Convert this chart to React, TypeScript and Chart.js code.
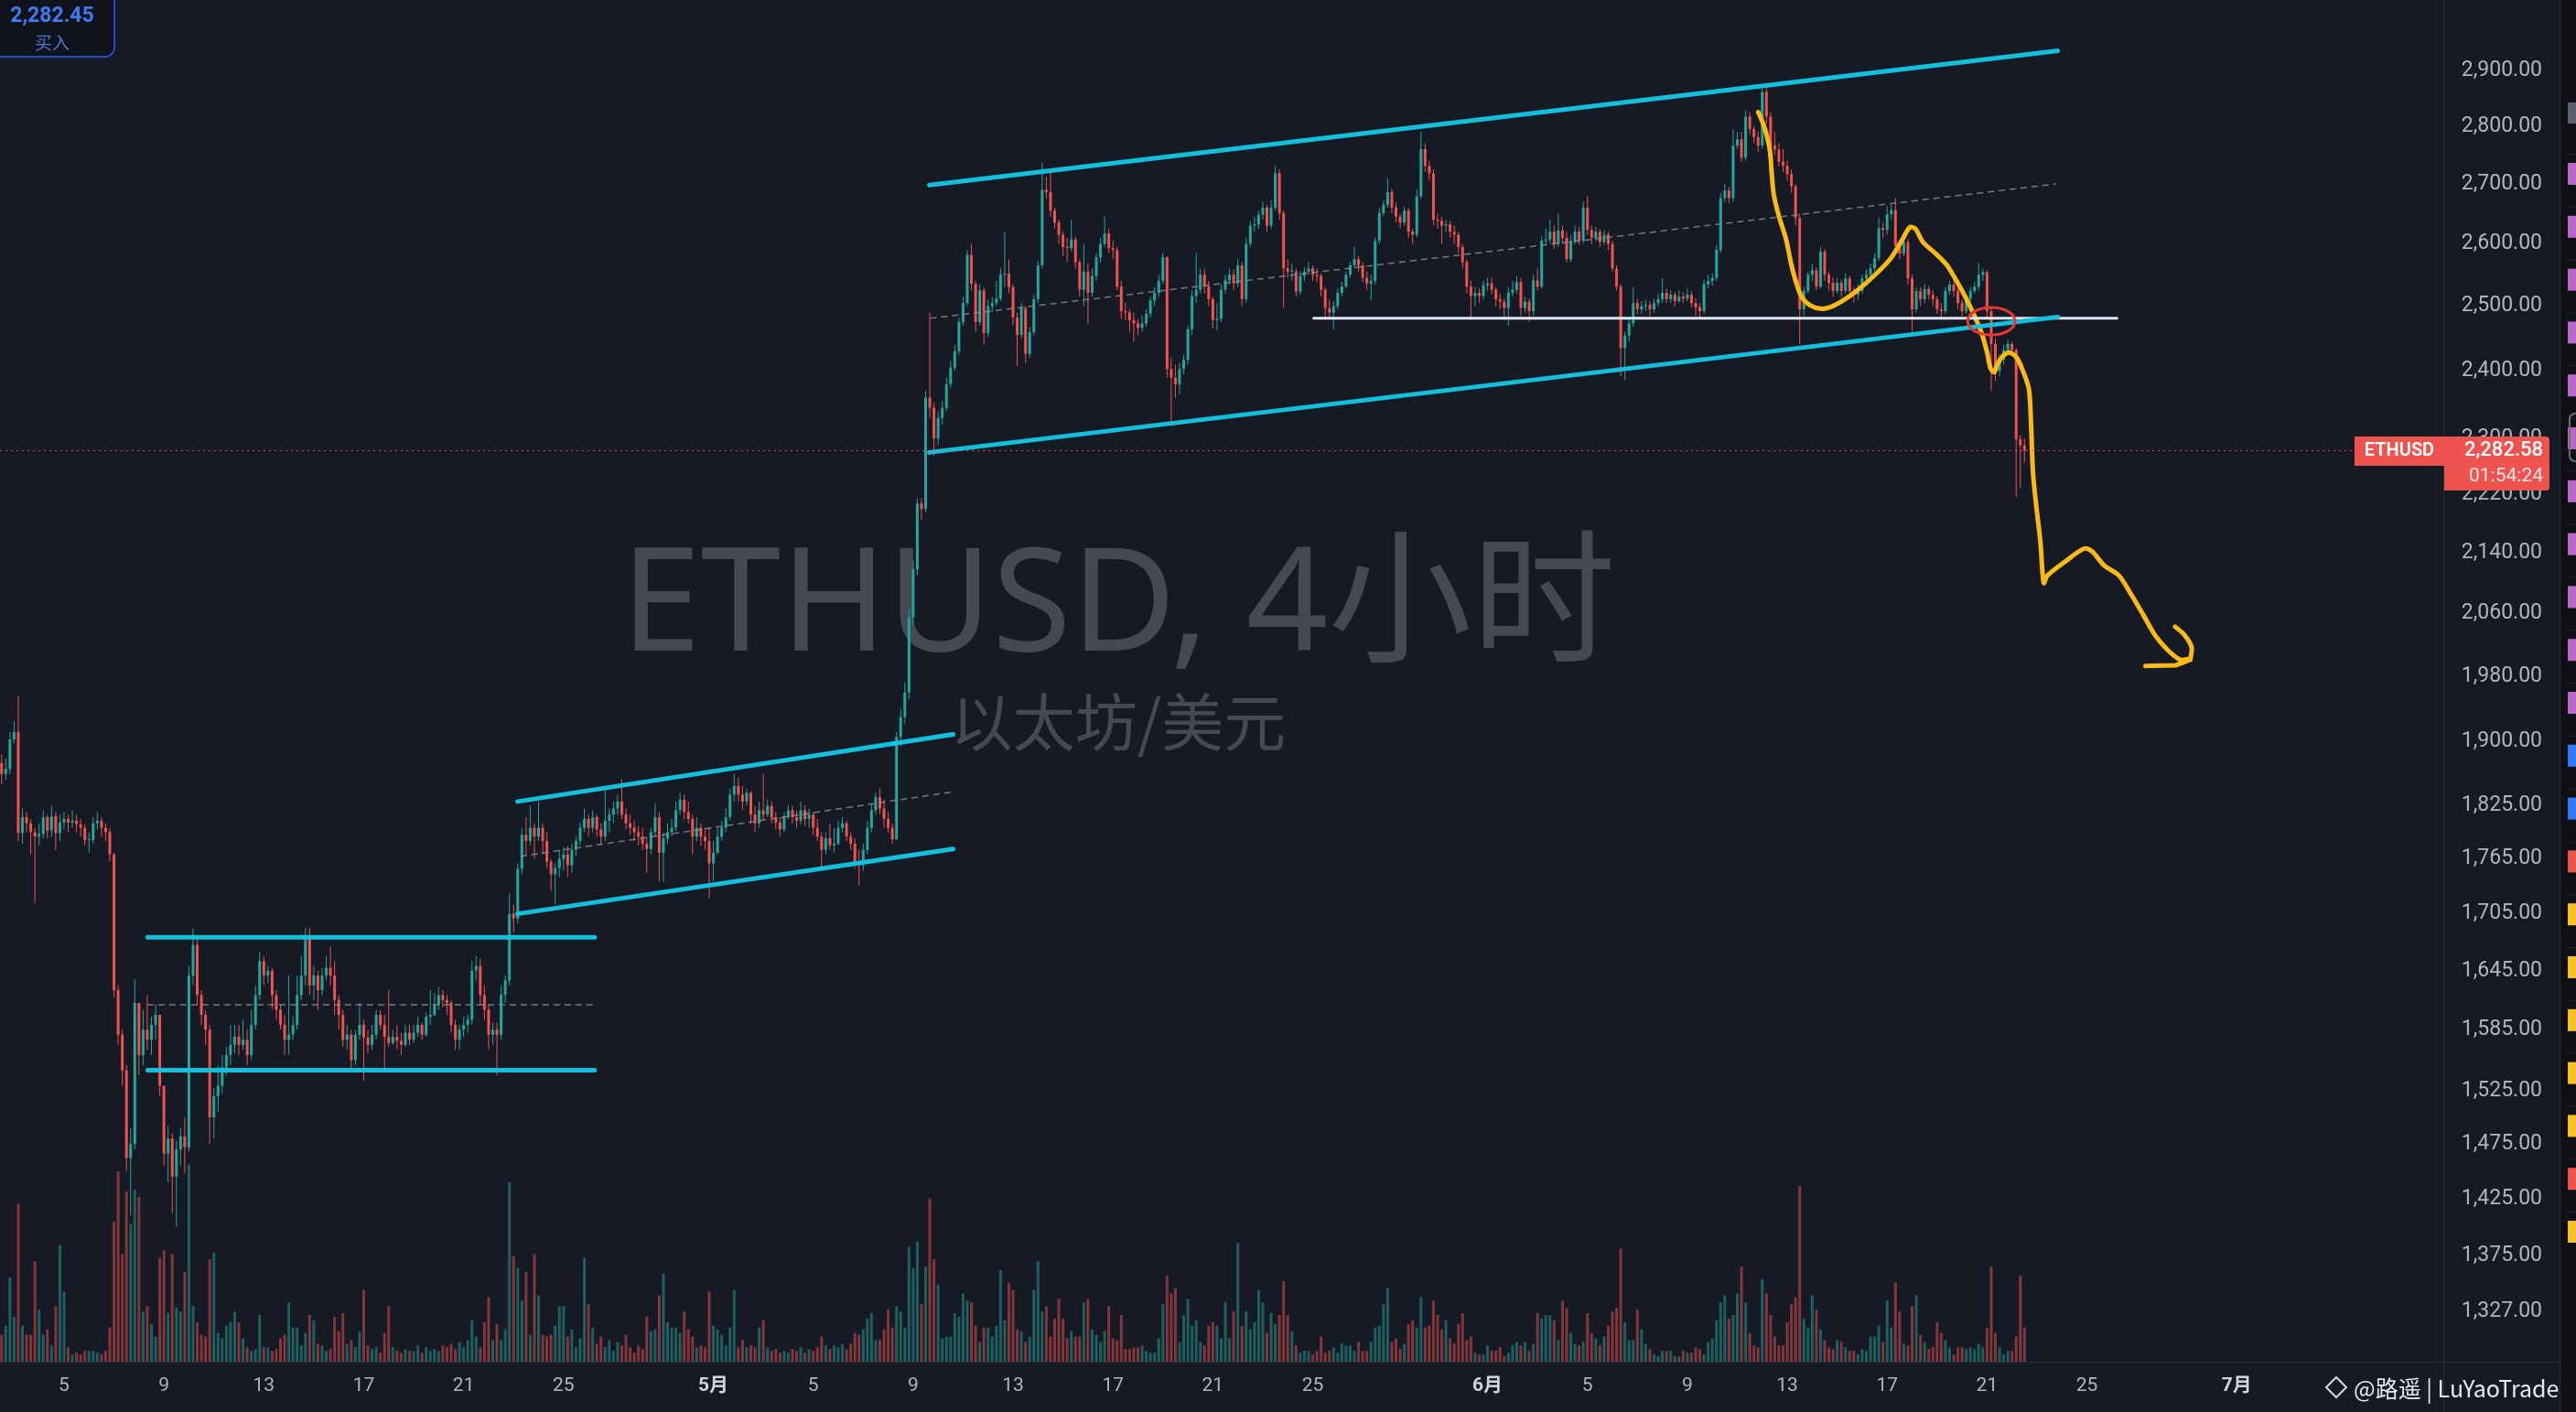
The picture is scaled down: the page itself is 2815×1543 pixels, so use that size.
import React, { useEffect, useRef } from 'react';
import { Chart, registerables } from 'chart.js';

Chart.register(...registerables);

// ---------- texts ----------
const symbolTitle = 'ETHUSD, 4小时';
const symbolSubtitle = '以太坊/美元';
const tickerLabel = 'ETHUSD';
const lastPrice = 2282.58;
const countdown = '01:54:24';
const bidPrice = '2,282.45';
const bidLabel = '买入';
const signature = '@路遥 | LuYaoTrade';

// ---------- candles (4h), x = days since Apr 1 00:00 ----------
const firstCandleDay = 1.5;
const candleStep = 1 / 6;
const firstOpen = 1875;

const closes = [
  1862, 1868, 1903,
  1912, 1794, 1812, 1805, 1795, 1790,
  1793, 1812, 1797, 1813, 1794, 1806,
  1810, 1806, 1808, 1804, 1800, 1786,
  1786, 1805, 1808, 1800, 1795, 1770,
  1625, 1580, 1545, 1462, 1475, 1612,
  1560, 1585, 1575, 1590, 1600, 1530,
  1466, 1480, 1445, 1470, 1482, 1472,
  1640, 1672, 1620, 1600, 1585, 1500,
  1520, 1530, 1548, 1560, 1570, 1578,
  1570, 1575, 1560, 1590, 1620, 1655,
  1640, 1645, 1620, 1605, 1590, 1575,
  1580, 1590, 1620, 1640, 1682, 1630,
  1640, 1625, 1640, 1648, 1640, 1615,
  1600, 1575, 1580, 1555, 1580, 1590,
  1577, 1570, 1580, 1600, 1590, 1578,
  1572, 1578, 1574, 1570, 1582, 1575,
  1582, 1590, 1580, 1598, 1600, 1610,
  1620, 1615, 1612, 1590, 1575, 1585,
  1590, 1595, 1645, 1650, 1620, 1605,
  1580, 1585, 1580, 1620, 1635, 1705,
  1700, 1754, 1792, 1785, 1800, 1790,
  1800, 1785, 1762, 1748, 1755, 1765,
  1770, 1758, 1775, 1785, 1800, 1810,
  1800, 1812, 1798, 1790, 1808, 1815,
  1822, 1830, 1815, 1805, 1800, 1795,
  1790, 1782, 1776, 1795, 1812, 1772,
  1788, 1795, 1800, 1820, 1832, 1818,
  1810, 1790, 1800, 1790, 1785, 1760,
  1772, 1790, 1800, 1812, 1838, 1848,
  1838, 1830, 1840, 1815, 1805, 1820,
  1815, 1825, 1812, 1806, 1798, 1812,
  1820, 1812, 1808, 1820, 1810, 1815,
  1800, 1790, 1775, 1788, 1780, 1782,
  1800, 1805, 1790, 1782, 1760, 1758,
  1775, 1800, 1820, 1835, 1822, 1810,
  1800, 1787, 1906, 1930, 1960, 2055,
  2118, 2208, 2200, 2360, 2345, 2300,
  2330, 2345, 2380, 2405, 2430, 2475,
  2505, 2582, 2535, 2475, 2525, 2458,
  2500, 2505, 2512, 2550, 2552, 2530,
  2482, 2455, 2497, 2426, 2459, 2511,
  2565, 2690, 2686, 2655, 2635, 2615,
  2595, 2593, 2607, 2570, 2526, 2555,
  2521, 2548, 2578, 2600, 2617, 2593,
  2590, 2531, 2492, 2490, 2478, 2473,
  2466, 2473, 2488, 2509, 2521, 2540,
  2578, 2403, 2390, 2380, 2403, 2417,
  2464, 2516, 2526, 2550, 2531, 2511,
  2478, 2480, 2526, 2541, 2550, 2536,
  2565, 2511, 2600, 2630, 2632, 2648,
  2660, 2630, 2660, 2718, 2651, 2560,
  2555, 2555, 2523, 2548, 2555, 2560,
  2550, 2548, 2526, 2497, 2490, 2500,
  2521, 2531, 2550, 2565, 2575, 2565,
  2545, 2536, 2540, 2605, 2651, 2665,
  2686, 2660, 2645, 2635, 2655, 2620,
  2615, 2679, 2760, 2731, 2718, 2640,
  2638, 2630, 2632, 2620, 2615, 2595,
  2570, 2531, 2516, 2521, 2516, 2533,
  2536, 2526, 2511, 2507, 2497, 2521,
  2526, 2538, 2497, 2507, 2492, 2541,
  2531, 2605, 2607, 2620, 2600, 2622,
  2610, 2575, 2605, 2620, 2605, 2660,
  2623, 2610, 2620, 2603, 2615, 2600,
  2560, 2531, 2435, 2454, 2473, 2505,
  2495, 2500, 2502, 2495, 2505, 2511,
  2521, 2511, 2518, 2508, 2515, 2512,
  2518, 2505, 2498, 2492, 2535, 2540,
  2545, 2590, 2676, 2689, 2676, 2766,
  2777, 2745, 2817, 2795, 2781, 2766,
  2861, 2817, 2766, 2759, 2738, 2731,
  2717, 2696, 2643, 2495, 2524, 2550,
  2557, 2531, 2587, 2550, 2537, 2524,
  2537, 2524, 2544, 2524, 2518, 2524,
  2544, 2550, 2560, 2577, 2626, 2623,
  2649, 2656, 2597, 2584, 2603, 2544,
  2495, 2524, 2511, 2527, 2518, 2511,
  2495, 2492, 2524, 2534, 2524, 2505,
  2492, 2511, 2524, 2531, 2550, 2554,
  2492, 2441, 2400, 2417, 2432, 2441,
  2432, 2299, 2290, 2282.58,
];

const highs = [
  1885, 1880, 1912,
  1925, 1956, 1822, 1818, 1810, 1800,
  1805, 1820, 1815, 1825, 1818, 1815,
  1818, 1815, 1820, 1815, 1810, 1804,
  1795, 1812, 1818, 1812, 1805, 1800,
  1772, 1630, 1585, 1550, 1490, 1636,
  1612, 1605, 1620, 1598, 1610, 1598,
  1530, 1492, 1485, 1478, 1490, 1500,
  1650, 1690, 1680, 1625, 1605, 1590,
  1528, 1550, 1560, 1568, 1590, 1590,
  1590, 1595, 1585, 1605, 1630, 1665,
  1660, 1650, 1648, 1625, 1610, 1600,
  1640, 1598, 1640, 1660, 1690, 1690,
  1650, 1645, 1648, 1660, 1670, 1655,
  1620, 1605, 1590, 1585, 1585, 1612,
  1595, 1585, 1590, 1605, 1605, 1600,
  1625, 1585, 1590, 1582, 1590, 1590,
  1590, 1598, 1592, 1602, 1625, 1622,
  1628, 1625, 1620, 1615, 1595, 1590,
  1598, 1600, 1655, 1660, 1658, 1630,
  1610, 1592, 1592, 1630, 1640, 1727,
  1715, 1760, 1800, 1812, 1825, 1805,
  1830, 1805, 1795, 1765, 1760, 1775,
  1778, 1780, 1782, 1790, 1806, 1822,
  1815, 1820, 1815, 1805, 1845, 1822,
  1830, 1838, 1856, 1822, 1815, 1808,
  1802, 1800, 1790, 1800, 1828, 1818,
  1795, 1805, 1810, 1830, 1840, 1838,
  1830, 1815, 1812, 1805, 1800, 1800,
  1785, 1800, 1808, 1822, 1845, 1862,
  1858, 1848, 1845, 1842, 1825, 1830,
  1862, 1832, 1830, 1818, 1812, 1818,
  1826, 1825, 1820, 1830, 1826, 1822,
  1818, 1810, 1795, 1795, 1805, 1800,
  1808, 1812, 1808, 1795, 1788, 1775,
  1782, 1808, 1828, 1840, 1845, 1832,
  1818, 1805, 1912, 1940, 1972, 2065,
  2130, 2215, 2215, 2370, 2490, 2352,
  2340, 2355, 2390, 2415, 2440, 2482,
  2515, 2590, 2600, 2540, 2535, 2530,
  2510, 2515, 2540, 2560, 2620, 2575,
  2535, 2490, 2505, 2500, 2468, 2518,
  2572, 2737, 2712, 2720, 2660, 2640,
  2620, 2610, 2640, 2612, 2575, 2600,
  2568, 2560, 2585, 2610, 2645, 2625,
  2605, 2595, 2540, 2505, 2495, 2490,
  2480, 2485, 2495, 2515, 2530, 2550,
  2585, 2580, 2420, 2410, 2412, 2425,
  2470, 2525, 2585, 2560, 2560, 2540,
  2515, 2505, 2535, 2550, 2560, 2558,
  2575, 2570, 2610, 2638, 2645, 2655,
  2670, 2665, 2672, 2731, 2725, 2655,
  2575, 2568, 2560, 2555, 2562, 2570,
  2565, 2560, 2552, 2530, 2510, 2508,
  2528, 2538, 2555, 2570, 2595, 2580,
  2570, 2555, 2550, 2610, 2660, 2672,
  2710, 2692, 2668, 2650, 2662, 2660,
  2625, 2690, 2790, 2770, 2740, 2725,
  2650, 2645, 2640, 2638, 2630, 2620,
  2600, 2575, 2540, 2530, 2528, 2540,
  2545, 2545, 2530, 2520, 2512, 2530,
  2540, 2548, 2545, 2515, 2512, 2550,
  2560, 2612, 2625, 2640, 2630, 2650,
  2630, 2620, 2615, 2630, 2628, 2670,
  2680, 2630, 2628, 2625, 2622, 2620,
  2605, 2565, 2535, 2460, 2480, 2530,
  2512, 2508, 2510, 2508, 2512, 2520,
  2544, 2528, 2525, 2522, 2525, 2522,
  2528, 2524, 2512, 2505, 2542, 2550,
  2552, 2598, 2685, 2700, 2695, 2795,
  2790, 2790, 2828, 2825, 2800, 2790,
  2868, 2872, 2825, 2790, 2770, 2760,
  2740, 2725, 2700, 2650, 2530, 2555,
  2568, 2562, 2595, 2592, 2555, 2545,
  2545, 2542, 2552, 2548, 2530, 2535,
  2550, 2558, 2568, 2585, 2643, 2635,
  2662, 2665, 2676, 2600, 2610, 2608,
  2550, 2530, 2530, 2535, 2532, 2525,
  2515, 2505, 2530, 2540, 2540, 2528,
  2510, 2518, 2530, 2538, 2569, 2560,
  2557, 2500, 2450, 2425, 2440, 2448,
  2445, 2435, 2305, 2300,
];

const lows = [
  1850, 1855, 1862,
  1898, 1785, 1782, 1795, 1770, 1717,
  1780, 1788, 1788, 1790, 1775, 1785,
  1798, 1795, 1800, 1795, 1790, 1780,
  1772, 1782, 1798, 1790, 1785, 1762,
  1618, 1570, 1530, 1450, 1410, 1470,
  1540, 1550, 1565, 1560, 1575, 1520,
  1455, 1440, 1412, 1400, 1455, 1448,
  1468, 1630, 1610, 1590, 1570, 1475,
  1480, 1505, 1522, 1540, 1550, 1562,
  1560, 1565, 1550, 1555, 1585, 1615,
  1630, 1632, 1605, 1595, 1585, 1560,
  1560, 1575, 1585, 1615, 1630, 1620,
  1615, 1605, 1620, 1635, 1630, 1600,
  1585, 1568, 1565, 1545, 1550, 1575,
  1535, 1562, 1565, 1575, 1585, 1545,
  1568, 1570, 1565, 1560, 1568, 1570,
  1572, 1578, 1575, 1578, 1590, 1598,
  1605, 1608, 1600, 1582, 1565, 1565,
  1578, 1582, 1590, 1635, 1610, 1595,
  1565, 1570, 1540, 1575, 1612, 1630,
  1685, 1695, 1748, 1770, 1780, 1765,
  1785, 1770, 1755, 1730, 1715, 1745,
  1752, 1745, 1750, 1768, 1780, 1795,
  1790, 1795, 1790, 1782, 1785, 1795,
  1805, 1815, 1810, 1798, 1792, 1785,
  1780, 1775, 1750, 1770, 1790, 1740,
  1740, 1782, 1790, 1796, 1815, 1810,
  1805, 1770, 1785, 1780, 1775, 1722,
  1740, 1770, 1785, 1795, 1808, 1830,
  1830, 1820, 1825, 1805, 1795, 1800,
  1808, 1812, 1805, 1798, 1790, 1795,
  1810, 1805, 1800, 1804, 1802, 1800,
  1792, 1785, 1755, 1770, 1775, 1772,
  1780, 1795, 1785, 1775, 1755, 1735,
  1752, 1770, 1795, 1815, 1815, 1800,
  1795, 1782, 1786, 1895, 1922, 1952,
  2045, 2110, 2185, 2195, 2330, 2275,
  2290, 2320, 2340, 2375, 2400, 2425,
  2470, 2500, 2525, 2460, 2470, 2440,
  2452, 2490, 2500, 2508, 2530, 2520,
  2470, 2407, 2450, 2412, 2420, 2455,
  2505, 2560, 2675, 2645, 2625, 2600,
  2580, 2570, 2588, 2560, 2515, 2500,
  2473, 2515, 2540, 2570, 2595, 2585,
  2575, 2525, 2480, 2478, 2460, 2445,
  2455, 2460, 2468, 2482, 2500, 2515,
  2535, 2390, 2324, 2360, 2365, 2395,
  2410, 2455, 2505, 2520, 2520, 2500,
  2465, 2462, 2475, 2520, 2535, 2525,
  2530, 2500, 2505, 2595, 2620, 2625,
  2640, 2620, 2625, 2655, 2640, 2497,
  2545, 2540, 2515, 2518, 2540, 2550,
  2540, 2538, 2515, 2478, 2480, 2464,
  2495, 2515, 2528, 2545, 2560, 2555,
  2538, 2525, 2509, 2535, 2600, 2645,
  2660, 2650, 2635, 2625, 2630, 2610,
  2600, 2610, 2675, 2720, 2705, 2630,
  2625, 2600, 2620, 2610, 2600, 2585,
  2560, 2520, 2478, 2500, 2505, 2510,
  2525, 2518, 2500, 2495, 2478, 2469,
  2515, 2520, 2485, 2490, 2475, 2485,
  2525, 2528, 2598, 2600, 2592, 2595,
  2600, 2570, 2570, 2600, 2598, 2600,
  2615, 2600, 2605, 2595, 2598, 2590,
  2555, 2525, 2392, 2386, 2445, 2468,
  2488, 2488, 2492, 2485, 2490, 2500,
  2505, 2505, 2505, 2500, 2505, 2505,
  2508, 2498, 2485, 2480, 2488, 2528,
  2532, 2540, 2585, 2670, 2668, 2670,
  2760, 2738, 2740, 2785, 2770, 2755,
  2760, 2805, 2755, 2750, 2730, 2720,
  2705, 2685, 2630, 2441, 2485, 2520,
  2540, 2525, 2528, 2540, 2525, 2515,
  2520, 2515, 2520, 2515, 2505, 2510,
  2520, 2540, 2545, 2555, 2572, 2610,
  2615, 2640, 2590, 2575, 2580, 2535,
  2460, 2490, 2500, 2505, 2510, 2500,
  2488, 2480, 2488, 2518, 2515, 2495,
  2484, 2488, 2505, 2520, 2525, 2540,
  2480, 2370, 2385, 2392, 2410, 2425,
  2425, 2217, 2230, 2265,
];

// relative volume (100 = tallest April bar)
const volumes = [
  15, 20, 47,
  25, 88, 20, 15, 15, 56,
  29, 15, 18, 9, 31, 65,
  39, 8, 4, 5, 4, 6,
  6, 6, 5, 4, 6, 19,
  78, 106, 60, 95, 77, 96,
  92, 28, 31, 21, 14, 58,
  62, 27, 60, 30, 28, 50,
  110, 31, 22, 15, 14, 57,
  61, 16, 13, 20, 22, 28,
  22, 13, 8, 6, 7, 26,
  8, 8, 6, 7, 13, 15,
  33, 19, 19, 9, 16, 26,
  23, 10, 9, 6, 7, 25,
  17, 27, 10, 12, 8, 17,
  40, 9, 7, 8, 5, 16,
  31, 8, 6, 5, 7, 6,
  6, 9, 5, 8, 6, 7,
  6, 9, 8, 10, 7, 11,
  8, 12, 23, 14, 8, 22,
  36, 12, 21, 12, 18, 100,
  59, 52, 34, 50, 15, 60,
  37, 15, 14, 15, 20, 31,
  31, 14, 18, 8, 13, 58,
  32, 19, 10, 14, 8, 12,
  6, 11, 9, 15, 8, 5,
  9, 7, 25, 17, 18, 37,
  49, 22, 19, 19, 16, 28,
  18, 14, 8, 9, 8, 39,
  20, 18, 15, 9, 19, 40,
  8, 12, 8, 9, 8, 19,
  23, 8, 6, 7, 5, 6,
  5, 7, 6, 8, 5, 7,
  6, 8, 14, 9, 7, 9,
  8, 10, 7, 10, 16, 15,
  18, 24, 27, 12, 12, 18,
  29, 19, 31, 28, 19, 64,
  52, 67, 32, 53, 91, 57,
  43, 13, 14, 14, 27, 25,
  38, 34, 33, 20, 11, 19,
  19, 14, 20, 51, 23, 44,
  40, 18, 17, 11, 14, 40,
  56, 28, 31, 14, 24, 35,
  24, 13, 17, 14, 14, 33,
  35, 18, 15, 11, 17, 31,
  13, 12, 26, 7, 7, 8,
  8, 9, 6, 5, 5, 13,
  32, 48, 38, 41, 11, 26,
  35, 20, 23, 11, 9, 20,
  22, 20, 13, 33, 13, 28,
  66, 20, 28, 18, 22, 40,
  33, 16, 27, 21, 26, 45,
  26, 17, 9, 5, 6, 6,
  4, 6, 14, 5, 6, 8,
  5, 10, 9, 9, 6, 11,
  6, 6, 11, 19, 20, 32,
  41, 11, 13, 7, 10, 21,
  23, 19, 36, 19, 20, 34,
  26, 18, 23, 13, 10, 21,
  27, 12, 14, 5, 4, 4,
  9, 6, 6, 8, 3, 5,
  9, 11, 9, 11, 6, 10,
  27, 24, 26, 26, 23, 12,
  34, 30, 16, 10, 9, 11,
  27, 16, 13, 9, 14, 20,
  28, 30, 63, 22, 12, 12,
  29, 18, 10, 7, 4, 3,
  6, 6, 6, 3, 3, 6,
  5, 5, 8, 7, 4, 11,
  13, 23, 33, 37, 24, 26,
  38, 53, 33, 16, 9, 8,
  46, 38, 26, 14, 9, 9,
  22, 32, 36, 98, 24, 19,
  37, 29, 18, 12, 8, 7,
  12, 11, 8, 6, 6, 4,
  7, 6, 14, 14, 20, 11,
  34, 19, 44, 28, 10, 9,
  31, 37, 15, 11, 7, 8,
  22, 16, 12, 8, 4, 8,
  8, 7, 8, 7, 10, 8,
  19, 53, 16, 8, 4, 6,
  6, 14, 48, 19,
];

// ---------- axes ----------
const priceTicks = [2900, 2800, 2700, 2600, 2500, 2400, 2300, 2220, 2140, 2060, 1980, 1900, 1825, 1765, 1705, 1645, 1585, 1525, 1475, 1425, 1375, 1327];
const timeTickDays = [4, 8, 12, 16, 20, 24, 30, 34, 38, 42, 46, 50, 54, 61, 65, 69, 73, 77, 81, 85, 91];
const timeTickLabels = ['5', '9', '13', '17', '21', '25', '5月', '5', '9', '13', '17', '21', '25', '6月', '5', '9', '13', '17', '21', '25', '7月'];
const xRange = [1.436, 99.27];
const yRange = [1286, 3031.6];
const volumeMax = 759;

// ---------- drawings (x in days, y in price) ----------
const rangeTop = [{ x: 7.35, y: 1680 }, { x: 25.25, y: 1680 }];
const rangeMid = [{ x: 7.35, y: 1610 }, { x: 25.25, y: 1610 }];
const rangeBottom = [{ x: 7.35, y: 1545 }, { x: 25.25, y: 1545 }];
const channel2Top = [{ x: 22.16, y: 1830 }, { x: 39.6, y: 1909 }];
const channel2Mid = [{ x: 22.3, y: 1768 }, { x: 39.55, y: 1841 }];
const channel2Bottom = [{ x: 22.16, y: 1705 }, { x: 39.6, y: 1776 }];
const channel3Top = [{ x: 38.65, y: 2698 }, { x: 83.83, y: 2936 }];
const channel3Mid = [{ x: 38.7, y: 2481 }, { x: 83.75, y: 2700 }];
const channel3Bottom = [{ x: 38.65, y: 2280 }, { x: 83.83, y: 2483 }];
const supportLine = [{ x: 54.04, y: 2481 }, { x: 86.2, y: 2481 }];
const forecastPath = [
  [71.84, 2825], [72.08, 2799], [72.3, 2759], [72.38, 2717], [72.46, 2682], [72.67, 2645],
  [72.95, 2608], [73.16, 2567], [73.36, 2537], [73.6, 2513], [73.93, 2501], [74.34, 2496],
  [74.7, 2498], [75.16, 2507], [75.81, 2525], [76.47, 2548], [77.12, 2575], [77.58, 2605],
  [77.9, 2627], [78.13, 2625], [78.43, 2603], [78.92, 2585], [79.38, 2566], [79.82, 2537],
  [80.14, 2514], [80.47, 2487], [80.8, 2456], [81.01, 2427], [81.14, 2404], [81.29, 2398],
  [81.4, 2409], [81.62, 2422], [81.89, 2428], [82.19, 2420], [82.48, 2396], [82.68, 2372],
  [82.76, 2324], [82.84, 2251], [82.97, 2205], [83.14, 2154], [83.27, 2100], [83.42, 2110],
  [84.15, 2129], [84.89, 2146], [85.21, 2142], [85.7, 2123], [86.28, 2110], [86.77, 2085],
  [87.26, 2058], [87.75, 2031], [88.24, 2013], [88.73, 2001], [89.11, 2002],
];
const forecastArrowBase = [[87.34, 1993], [88.57, 1994], [89.14, 2001]];
const forecastArrowSide = [[88.53, 2043], [88.89, 2033], [89.19, 2017], [89.14, 2001]];
const breakEllipse = { x0: 80.22, x1: 82.12, yTop: 2498, yBottom: 2455 };

// right toolbar markers
const markerColors = [
  '#ba68c8', '#ba68c8', '#ba68c8', '#ba68c8', '#ba68c8', '#ba68c8', '#ba68c8', '#ba68c8', '#ba68c8', '#ba68c8', '#ba68c8',
  '#3179f5', '#3179f5', '#ef5350', '#f6c026', '#f6c026', '#f6c026', '#f6c026', '#f6c026', '#ef5350', '#f6c026',
];

const UP = '#26a69a';
const DOWN = '#ef5350';

const fmtPrice = (v: number) => Number(v).toLocaleString('en-US', { minimumFractionDigits: 2, maximumFractionDigits: 2 });

const overlayPlugin = {
  id: 'overlay',
  beforeDatasetsDraw(chart: any) {
    const { ctx } = chart;
    ctx.save();
    ctx.fillStyle = 'rgba(178,181,190,0.30)';
    ctx.textAlign = 'center';
    ctx.textBaseline = 'middle';
    ctx.font = '400 157px "Noto Sans", "Noto Sans CJK SC", sans-serif';
    ctx.fillText(symbolTitle, 1222, 666);
    ctx.font = '400 68px "Noto Sans CJK SC", "Noto Sans", sans-serif';
    ctx.fillText(symbolSubtitle, 1222, 789);
    ctx.restore();
  },
  afterDatasetsDraw(chart: any) {
    const { ctx, chartArea, scales } = chart;
    const y = Math.round(scales.y.getPixelForValue(lastPrice)) + 0.5;
    ctx.save();
    ctx.strokeStyle = 'rgba(239,83,80,0.9)';
    ctx.lineWidth = 1.2;
    ctx.setLineDash([2, 4]);
    ctx.beginPath();
    ctx.moveTo(chartArea.left, y);
    ctx.lineTo(chartArea.right, y);
    ctx.stroke();
    ctx.setLineDash([]);
    const ex0 = scales.x.getPixelForValue(breakEllipse.x0);
    const ex1 = scales.x.getPixelForValue(breakEllipse.x1);
    const ey0 = scales.y.getPixelForValue(breakEllipse.yTop);
    const ey1 = scales.y.getPixelForValue(breakEllipse.yBottom);
    ctx.strokeStyle = '#e53935';
    ctx.lineWidth = 3;
    ctx.beginPath();
    ctx.ellipse((ex0 + ex1) / 2, (ey0 + ey1) / 2, (ex1 - ex0) / 2, (ey1 - ey0) / 2, 0, 0, Math.PI * 2);
    ctx.stroke();
    ctx.restore();
  },
  afterDraw(chart: any) {
    const { ctx, chartArea, scales, width, height } = chart;
    ctx.save();
    // separators
    ctx.strokeStyle = '#2a2e39';
    ctx.lineWidth = 1;
    ctx.beginPath();
    ctx.moveTo(chartArea.right + 0.5, 0);
    ctx.lineTo(chartArea.right + 0.5, height);
    ctx.moveTo(0, chartArea.bottom + 0.5);
    ctx.lineTo(2797, chartArea.bottom + 0.5);
    ctx.stroke();

    // right toolbar strip
    ctx.fillStyle = '#0e1014';
    ctx.fillRect(2797, 0, width - 2797, height);
    ctx.fillStyle = '#2a2e39';
    ctx.fillRect(2797, 0, 1, height);
    ctx.fillStyle = '#5d606b';
    ctx.fillRect(2806, 112, 9, 23);
    markerColors.forEach((c, i) => {
      const top = 178 + i * 57.8;
      ctx.fillStyle = '#23262f';
      ctx.fillRect(2806, top - 10, 9, 1);
      ctx.fillStyle = c;
      ctx.fillRect(2806, top, 9, 24);
    });
    ctx.strokeStyle = '#6a6d78';
    ctx.lineWidth = 2;
    ctx.beginPath();
    ctx.roundRect(2808, 452, 12, 52, 6);
    ctx.stroke();

    // last price labels
    const y = scales.y.getPixelForValue(lastPrice);
    ctx.fillStyle = DOWN;
    ctx.fillRect(2573, Math.round(y) - 15, 98, 32);
    ctx.beginPath();
    ctx.roundRect(2671, Math.round(y) - 15, 115, 59, [0, 4, 4, 0]);
    ctx.fill();
    ctx.fillStyle = '#ffffff';
    ctx.textBaseline = 'middle';
    ctx.textAlign = 'center';
    ctx.font = '600 20px Roboto, "Noto Sans", sans-serif';
    ctx.fillText(tickerLabel, 2622, y + 1);
    ctx.textAlign = 'right';
    ctx.font = '500 22px Roboto, "Noto Sans", sans-serif';
    ctx.fillText(fmtPrice(lastPrice), 2779, y);
    ctx.fillStyle = 'rgba(255,255,255,0.85)';
    ctx.font = '400 21px Roboto, "Noto Sans", sans-serif';
    ctx.fillText(countdown, 2779, y + 28);

    // top-left bid box
    ctx.fillStyle = '#10131c';
    ctx.strokeStyle = '#2962ff';
    ctx.lineWidth = 1.5;
    ctx.beginPath();
    ctx.roundRect(-12, -12, 137, 74, 10);
    ctx.fill();
    ctx.stroke();
    ctx.textAlign = 'center';
    ctx.fillStyle = '#3d7bf0';
    ctx.font = '700 23px Roboto, "Noto Sans", sans-serif';
    ctx.fillText(bidPrice, 57, 18);
    ctx.fillStyle = '#4a78d6';
    ctx.font = '400 19px "Noto Sans CJK SC", sans-serif';
    ctx.fillText(bidLabel, 57, 47);

    // signature
    ctx.strokeStyle = '#d8dae0';
    ctx.lineWidth = 2;
    ctx.beginPath();
    ctx.moveTo(2553, 1505); ctx.lineTo(2564, 1516); ctx.lineTo(2553, 1527); ctx.lineTo(2542, 1516); ctx.closePath();
    ctx.stroke();
    ctx.fillStyle = '#e6e8ee';
    ctx.textAlign = 'left';
    ctx.font = '400 25px "Noto Sans CJK SC", "Noto Sans", sans-serif';
    ctx.fillText(signature, 2572, 1517);
    ctx.restore();
  },
};

export default function App() {
  const ref = useRef<HTMLCanvasElement>(null);

  useEffect(() => {
    const canvas = ref.current;
    if (!canvas) return;
    const xs = closes.map((_, i) => firstCandleDay + i * candleStep);
    const opens = closes.map((_, i) => (i === 0 ? firstOpen : closes[i - 1]));
    const isUp = closes.map((c, i) => c >= opens[i]);
    const bodies = xs.map((x, i) => ({ x, y: [opens[i], closes[i]] }));
    const wicks = xs.map((x, i) => ({
      x,
      y: [Math.min(lows[i], opens[i], closes[i]), Math.max(highs[i], opens[i], closes[i])],
    }));
    const vols = xs.map((x, i) => ({ x, y: volumes[i] }));
    const candleColors = isUp.map((u) => (u ? UP : DOWN));
    const volColors = isUp.map((u) => (u ? 'rgba(38,166,154,0.5)' : 'rgba(239,83,80,0.5)'));
    const pts = (arr: number[][]) => arr.map(([x, y]) => ({ x, y }));

    const line = (data: any[], color: string, width: number, dash: number[] = [], tension = 0) => ({
      type: 'line',
      data,
      borderColor: color,
      borderWidth: width,
      borderDash: dash,
      borderCapStyle: 'round',
      borderJoinStyle: 'round',
      pointRadius: 0,
      tension,
      fill: false,
      order: 0,
      yAxisID: 'y',
    });

    const CYAN = '#14bfdc';
    const DASH = 'rgba(134,137,147,0.85)';
    const YELLOW = '#f9b916';

    const chart = new Chart(canvas, {
      type: 'bar',
      data: {
        datasets: [
          line(rangeMid, DASH, 1.5, [6, 6]),
          line(channel2Mid, DASH, 1.5, [6, 6]),
          line(channel3Mid, DASH, 1.5, [6, 6]),
          line(rangeTop, CYAN, 5),
          line(rangeBottom, CYAN, 5),
          line(channel2Top, CYAN, 5),
          line(channel2Bottom, CYAN, 5),
          line(channel3Top, CYAN, 5),
          line(channel3Bottom, CYAN, 5),
          line(supportLine, '#dde7f5', 3),
          line(pts(forecastPath), YELLOW, 5, [], 0.3),
          line(pts(forecastArrowBase), YELLOW, 5),
          line(pts(forecastArrowSide), YELLOW, 5, [], 0.3),
          {
            type: 'bar',
            data: bodies,
            backgroundColor: candleColors,
            barThickness: 3,
            minBarLength: 1,
            grouped: false,
            borderWidth: 0,
            inflateAmount: 0,
            order: 2,
            yAxisID: 'y',
          },
          {
            type: 'bar',
            data: wicks,
            backgroundColor: candleColors,
            barThickness: 1,
            grouped: false,
            borderWidth: 0,
            inflateAmount: 0,
            order: 3,
            yAxisID: 'y',
          },
          {
            type: 'bar',
            data: vols,
            backgroundColor: volColors,
            barThickness: 3,
            grouped: false,
            borderWidth: 0,
            inflateAmount: 0,
            order: 5,
            yAxisID: 'yv',
          },
        ] as any,
      },
      options: {
        responsive: false,
        devicePixelRatio: 1,
        animation: false,
        events: [],
        layout: { padding: { left: 0, right: 37, top: 0, bottom: 0 } },
        plugins: { legend: { display: false }, tooltip: { enabled: false } },
        scales: {
          x: {
            type: 'linear',
            min: xRange[0],
            max: xRange[1],
            offset: false,
            afterBuildTicks: (s: any) => {
              s.ticks = timeTickDays.map((v, i) => ({ value: v, major: timeTickLabels[i].includes('月') }));
            },
            afterFit: (s: any) => {
              s.height = 55;
              s.paddingLeft = 0;
              s.paddingRight = 0;
            },
            grid: { display: false, drawTicks: false },
            border: { display: false },
            ticks: {
              autoSkip: false,
              maxRotation: 0,
              minRotation: 0,
              padding: 14,
              color: (c: any) => (c.tick && c.tick.major ? '#d1d4dc' : '#b2b5be'),
              font: (c: any) => ({ size: 21, family: 'Roboto, "Noto Sans CJK SC", sans-serif', weight: c.tick && c.tick.major ? 'bold' : 'normal' }),
              callback: (_v: any, i: number) => timeTickLabels[i],
            },
          },
          y: {
            type: 'logarithmic',
            position: 'right',
            min: yRange[0],
            max: yRange[1],
            afterBuildTicks: (s: any) => {
              s.ticks = priceTicks.map((v) => ({ value: v }));
            },
            afterFit: (s: any) => {
              s.width = 108;
              s.paddingTop = 0;
              s.paddingBottom = 0;
            },
            grid: { display: false, drawTicks: false },
            border: { display: false },
            ticks: {
              autoSkip: false,
              crossAlign: 'far',
              padding: 17,
              color: '#b2b5be',
              font: { size: 23, family: 'Roboto, sans-serif' },
              callback: (v: any) => fmtPrice(v),
            },
          },
          yv: {
            type: 'linear',
            display: false,
            min: 0,
            max: volumeMax,
          },
        },
      } as any,
      plugins: [overlayPlugin],
    });
    return () => chart.destroy();
  }, []);

  return (
    <div style={{ position: 'fixed', left: 0, top: 0, width: 2815, height: 1543, background: '#161a25', overflow: 'hidden' }}>
      <canvas ref={ref} width={2815} height={1543} style={{ display: 'block', width: 2815, height: 1543 }} />
    </div>
  );
}
